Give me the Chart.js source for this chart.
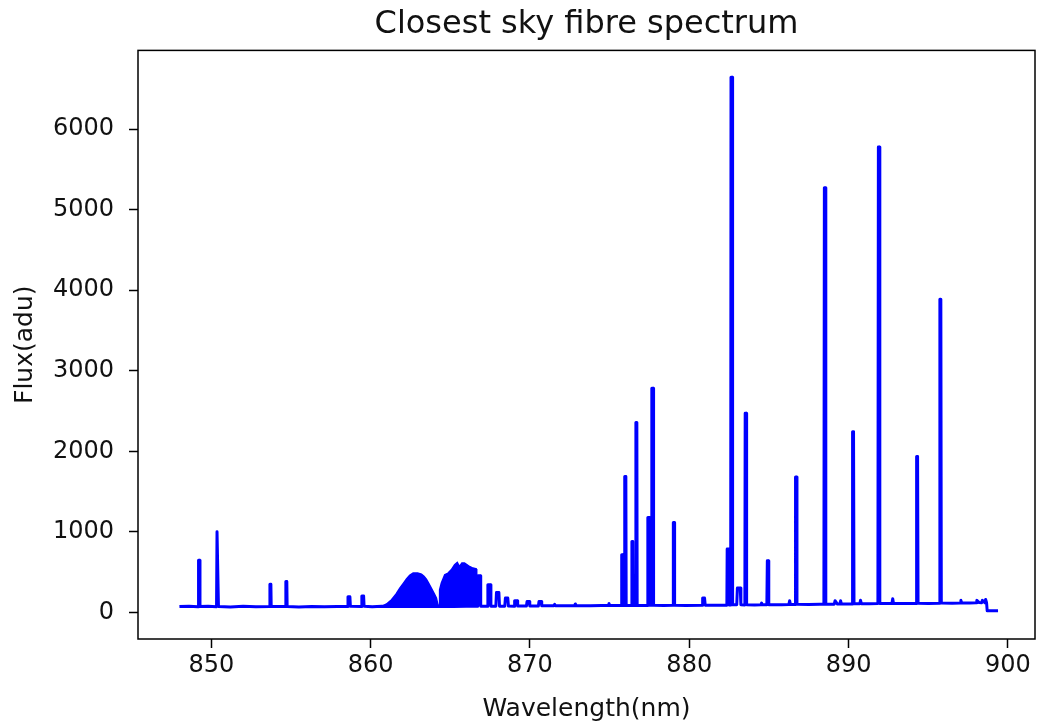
<!DOCTYPE html>
<html>
<head>
<meta charset="utf-8">
<title>Closest sky fibre spectrum</title>
<script src="https://cdn.jsdelivr.net/npm/chart.js@4.4.1/dist/chart.umd.min.js"></script>
<style>
    html, body { margin: 0; padding: 0; background: #fff; }
</style>
</head>
<body>
<canvas id="spectrumChart" width="1043" height="727"></canvas>
<script>
'use strict';

// sky spectrum (nm / adu)
const wavelength = [
    848.0, 848.6, 849.17, 849.2, 849.26, 849.29, 849.8, 850.33, 850.36, 850.42, 850.45, 851.2, 852.0, 852.8,
    853.66, 853.68, 853.74, 853.76, 854.66, 854.68, 854.74, 854.76, 855.5, 856.3, 857.1, 857.9, 858.55, 858.58, 858.7, 858.73,
    859.42, 859.45, 859.56, 859.59, 860.1, 860.7, 861.5, 862.5, 863.5, 864.3, 865.2, 866.0, 866.66,
    866.68, 866.72, 866.87, 866.91, 867.32, 867.36, 867.51, 867.55, 867.86, 867.9, 868.05, 868.09, 868.42, 868.46, 868.61, 868.65, 869.0, 869.04, 869.19, 869.23, 869.78, 869.82, 869.95, 869.99, 870.53, 870.57, 870.7, 870.74,
    871.5, 871.55, 871.6, 872.3, 872.8, 872.85, 872.9, 873.8, 874.5, 874.93, 874.96, 875.0,
    875.74, 875.76, 875.82, 875.84, 875.93, 875.95, 876.02, 876.04, 876.38, 876.40, 876.45, 876.47, 876.63, 876.65, 876.71, 876.73,
    877.38, 877.40, 877.5, 877.52, 877.63, 877.65, 877.74, 877.76, 878.4, 878.98, 879.0, 879.06, 879.08, 879.8, 880.8, 880.84, 880.96, 881.0, 881.7,
    882.36, 882.38, 882.48, 882.5, 882.6, 882.62, 882.7, 882.72, 882.98, 883.02, 883.2, 883.24, 883.49, 883.51, 883.58, 883.6, 884.1, 884.5, 884.54, 884.58, 884.87, 884.9, 884.96, 884.99, 885.8, 886.25, 886.3, 886.35,
    886.64, 886.67, 886.73, 886.76, 887.5, 888.2, 888.45, 888.48, 888.54, 888.57, 889.1, 889.15, 889.3, 889.45, 889.5, 889.55, 890.22, 890.25, 890.31, 890.34, 890.7, 890.75, 890.8,
    891.3, 891.84, 891.87, 891.93, 891.96, 892.72, 892.77, 892.82, 893.5, 894.24, 894.27, 894.33, 894.36, 895.0, 895.7, 895.73, 895.79, 895.82, 896.5, 897.0, 897.05, 897.1, 897.6, 898.0, 898.05, 898.2, 898.35, 898.4, 898.55, 898.6, 898.66, 898.7, 899.38
];
const flux = [
    72, 78, 70, 648, 648, 72, 76, 70, 1000, 1000, 74, 68, 75, 70,
    72, 350, 350, 74, 72, 385, 385, 74, 67, 74, 70, 73, 72, 195, 195, 75,
    74, 205, 205, 76, 71, 77, 72, 78, 73, 76, 72, 78, 75,
    76, 455, 455, 78, 77, 343, 343, 78, 77, 248, 248, 78, 78, 178, 178, 79, 78, 145, 145, 80, 80, 136, 136, 81, 80, 136, 136, 82,
    82, 100, 82, 84, 84, 105, 84, 83, 86, 86, 112, 86,
    85, 715, 715, 86, 86, 1686, 1686, 86, 86, 880, 880, 87, 86, 2356, 2356, 87,
    87, 1178, 1178, 88, 88, 2782, 2782, 88, 86, 88, 1116, 1116, 88, 86, 90, 178, 178, 90, 88,
    90, 786, 786, 92, 92, 6644, 6644, 95, 95, 302, 302, 95, 93, 2472, 2472, 95, 92, 94, 115, 94, 94, 641, 641, 96, 95, 97, 145, 97,
    98, 1682, 1682, 100, 98, 101, 100, 5270, 5270, 102, 102, 145, 104, 104, 145, 104, 105, 2244, 2244, 107, 107, 150, 108,
    108, 110, 5778, 5778, 112, 110, 170, 112, 110, 112, 1934, 1934, 114, 112, 114, 3886, 3886, 116, 115, 118, 150, 118, 118, 120, 150, 122, 120, 150, 122, 160, 120, 20, 20
];

// the two OH band humps around 861-867 nm (top edge, filled down to the continuum)
const bandWavelength = [
    860.69, 861.0, 861.31, 861.6, 861.83, 862.05, 862.25, 862.45, 862.67, 862.95, 863.19, 863.35, 863.5, 863.65, 863.81, 864.0, 864.13, 864.23, 864.3,
    864.33, 864.44, 864.65, 864.86, 865.06, 865.27, 865.44, 865.58, 865.73, 865.89, 866.06, 866.21, 866.42, 866.63, 866.66
];
const bandFlux = [
    75, 105, 157, 230, 302, 360, 414, 460, 488, 490, 476, 450, 414, 360, 302, 230, 180, 90, 80,
    281, 364, 467, 488, 529, 591, 620, 570, 612, 612, 591, 570, 550, 540, 76
];

const xTicks = [850, 860, 870, 880, 890, 900];
const yTicks = [0, 1000, 2000, 3000, 4000, 5000, 6000];

const FONT = 'DejaVu Sans';

// matplotlib style box round the plot
const frame = {
    id: 'frame',
    afterDraw(chart) {
        const { ctx, chartArea: a } = chart;
        ctx.save();
        ctx.strokeStyle = '#000';
        ctx.lineWidth = 1.5;
        ctx.strokeRect(a.left, a.top, a.right - a.left, a.bottom - a.top);
        ctx.restore();
    }
};

const toPoints = (xs, ys) => xs.map((x, i) => ({ x: x, y: ys[i] }));

const spectrumChart = new Chart(document.getElementById('spectrumChart'), {
    type: 'line',
    data: {
        datasets: [{
            label: 'band',
            data: toPoints(bandWavelength, bandFlux),
            borderColor: '#0000ff',
            backgroundColor: '#0000ff',
            borderWidth: 1.5,
            pointRadius: 0,
            tension: 0,
            fill: { target: { value: 75 } }
        }, {
            label: 'sky',
            data: toPoints(wavelength, flux),
            borderColor: '#0000ff',
            borderWidth: 3,
            borderJoinStyle: 'round',
            pointRadius: 0,
            tension: 0,
            fill: false
        }]
    },
    options: {
        responsive: false,
        animation: false,
        layout: {
            padding: { top: 0, right: 8, bottom: 0, left: 0 }
        },
        plugins: {
            legend: { display: false },
            tooltip: { enabled: false },
            title: {
                display: true,
                text: 'Closest sky fibre spectrum',
                fullSize: false,
                color: '#111',
                font: { family: FONT, size: 32, weight: 'normal' },
                padding: { top: 5, bottom: 7 }
            }
        },
        scales: {
            x: {
                type: 'linear',
                min: 845.4,
                max: 901.7,
                afterBuildTicks: s => { s.ticks = xTicks.map(v => ({ value: v })); },
                afterFit: s => { s.height = 88; },
                ticks: {
                    color: '#111',
                    font: { family: FONT, size: 24 },
                    padding: 3,
                    maxRotation: 0,
                    autoSkip: false,
                    callback: v => String(v)
                },
                grid: { drawOnChartArea: false, tickLength: 9, tickWidth: 1.5, tickColor: '#000' },
                border: { display: false },
                title: {
                    display: true,
                    text: 'Wavelength(nm)',
                    color: '#111',
                    font: { family: FONT, size: 25 },
                    padding: { top: 0, bottom: 3 }
                }
            },
            y: {
                type: 'linear',
                min: -330,
                max: 6976,
                afterBuildTicks: s => { s.ticks = yTicks.map(v => ({ value: v })); },
                afterFit: s => { s.width = 138; },
                ticks: {
                    color: '#111',
                    font: { family: FONT, size: 24 },
                    padding: 15,
                    callback: v => String(v)
                },
                grid: { drawOnChartArea: false, tickLength: 9, tickWidth: 1.5, tickColor: '#000' },
                border: { display: false },
                title: {
                    display: true,
                    text: 'Flux(adu)',
                    color: '#111',
                    font: { family: FONT, size: 25 },
                    padding: { top: 10, bottom: 0 }
                }
            }
        }
    },
    plugins: [frame]
});
</script>
</body>
</html>
